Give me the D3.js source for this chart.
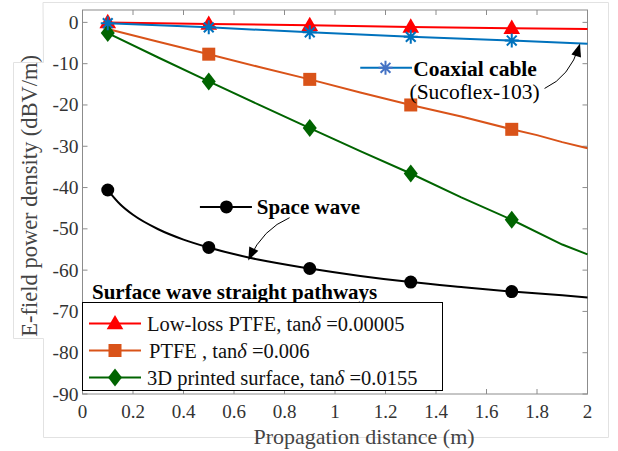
<!DOCTYPE html>
<html>
<head>
<meta charset="utf-8">
<script src="https://cdn.jsdelivr.net/npm/d3@7"></script>
</head>
<body style="margin:0">
<svg id="chart" width="618" height="451"></svg>
<script>
// distances (m) and E-field power density (dBV/m)
var lowLossX = [0.1, 0.5, 0.9, 1.3, 1.7, 2.0];
var lowLossY = [0, -0.4, -0.7, -1.1, -1.4, -1.6];
var coaxX = [0.1, 0.5, 0.9, 1.3, 1.7, 2.0];
var coaxY = [-0.2, -1.2, -2.4, -3.5, -4.4, -5.2];
var ptfeX = [0.1, 0.3, 0.5, 0.7, 0.9, 1.1, 1.3, 1.5, 1.7, 1.8, 1.9, 2.0];
var ptfeY = [-1.6, -4.7, -7.7, -10.8, -13.8, -17.0, -20.0, -22.8, -25.9, -27.3, -29.0, -30.5];
var printedX = [0.1, 0.3, 0.5, 0.7, 0.9, 1.0, 1.1, 1.3, 1.5, 1.7, 1.9, 2.0];
var printedY = [-2.6, -8.5, -14.3, -20.0, -25.6, -28.4, -31.2, -36.6, -42.4, -47.8, -53.8, -56.2];
var spaceX = [0.1, 0.15, 0.2, 0.3, 0.4, 0.5, 0.7, 0.9, 1.1, 1.3, 1.5, 1.7, 1.9, 2.0];
var spaceY = [-40.6, -44.1, -46.6, -50.1, -52.6, -54.5, -57.5, -59.6, -61.4, -62.9, -64.1, -65.2, -66.1, -66.6];
var markerX = [0.1, 0.5, 0.9, 1.3, 1.7];

var xTicks = [0, 0.2, 0.4, 0.6, 0.8, 1, 1.2, 1.4, 1.6, 1.8, 2];
var yTicks = [0, -10, -20, -30, -40, -50, -60, -70, -80, -90];
var legendNames = ['Low-loss PTFE, tan', 'PTFE , tan', '3D printed surface, tan'];
var legendVals = [' =0.00005', ' =0.006', ' =0.0155'];

var svg = d3.select('#chart');
var L = 82.5, R = 587.5, T = 10, B = 394;

var x = d3.scaleLinear().domain([0, 2]).range([L, R]);
var y = d3.scaleLinear().domain([-90, 3]).range([B, T]);

// faint page frame from the screenshot
svg.append('path')
  .attr('d', 'M43,2.5 H608.5 V437.5 H43.5 V338.5 H13.5 V62.5 H43.5 Z')
  .attr('fill', 'none')
  .attr('stroke', '#e2e2e2');

// axes box + inward ticks
var axisCol = '#8c8c8c';
svg.append('rect')
  .attr('x', L).attr('y', T).attr('width', R - L).attr('height', B - T)
  .attr('fill', '#fff').attr('stroke', axisCol);

xTicks.forEach(function(t) {
  svg.append('line').attr('x1', x(t)).attr('x2', x(t)).attr('y1', B).attr('y2', B - 5).attr('stroke', axisCol);
  svg.append('line').attr('x1', x(t)).attr('x2', x(t)).attr('y1', T).attr('y2', T + 5).attr('stroke', axisCol);
});
yTicks.forEach(function(t) {
  svg.append('line').attr('x1', L).attr('x2', L + 5).attr('y1', y(t)).attr('y2', y(t)).attr('stroke', axisCol);
  svg.append('line').attr('x1', R).attr('x2', R - 5).attr('y1', y(t)).attr('y2', y(t)).attr('stroke', axisCol);
});

function txt(px, py, size, str) {
  return svg.append('text')
    .attr('x', px).attr('y', py)
    .attr('font-family', 'Liberation Serif')
    .attr('font-size', size)
    .text(str);
}

xTicks.forEach(function(d) {
  txt(x(d), B + 24, 19, d).attr('text-anchor', 'middle').attr('fill', '#333');
});
yTicks.forEach(function(d) {
  txt(L - 4, y(d) + 6.5, 19.5, d).attr('text-anchor', 'end').attr('fill', '#333');
});

txt(364, 443.5, 22, 'Propagation distance (m)').attr('text-anchor', 'middle').attr('fill', '#444');
txt(0, 0, 22.5, 'E-field power density (dBV/m)')
  .attr('transform', 'translate(37,' + y(-42) + ') rotate(-90)')
  .attr('text-anchor', 'middle').attr('fill', '#444');

// markers
function asterisk(s) {
  var a = s * 0.7;
  return 'M0,' + (-s) + 'V' + s + 'M' + (-s) + ',0H' + s +
    'M' + (-a) + ',' + (-a) + 'L' + a + ',' + a + 'M' + (-a) + ',' + a + 'L' + a + ',' + (-a);
}
function diamond(w, h) {
  return 'M0,' + (-h) + 'L' + w + ',0L0,' + h + 'L' + (-w) + ',0Z';
}
function drawMarker(g, kind, color) {
  if (kind === 'tri') g.append('path').attr('d', d3.symbol(d3.symbolTriangle, 120)()).attr('transform', 'translate(0,1)').attr('fill', color);
  if (kind === 'sq') g.append('rect').attr('x', -6.5).attr('y', -6.5).attr('width', 13).attr('height', 13).attr('fill', color);
  if (kind === 'dia') g.append('path').attr('d', diamond(7, 9)).attr('fill', color);
  if (kind === 'circ') g.append('circle').attr('r', 6.5).attr('fill', color);
  if (kind === 'ast') g.append('path').attr('d', asterisk(7)).attr('stroke', color).attr('stroke-width', 2).attr('fill', 'none');
}

var line = d3.line()
  .x(function(d) { return x(d[0]); })
  .y(function(d) { return y(d[1]); });

function series(xs, ys, color, kind, mx, curve) {
  var pts = xs.map(function(v, i) { return [v, ys[i]]; });
  svg.append('path')
    .attr('d', line.curve(curve || d3.curveLinear)(pts))
    .attr('fill', 'none').attr('stroke', color).attr('stroke-width', 2);
  mx.forEach(function(v) {
    var i = xs.indexOf(v);
    var g = svg.append('g').attr('transform', 'translate(' + x(v) + ',' + y(ys[i]) + ')');
    drawMarker(g, kind, color);
  });
}

var cRed = '#ff0000', cOrange = '#d95319', cGreen = '#006400', cBlue = '#0072bd';
series(lowLossX, lowLossY, cRed, 'tri', markerX);
series(ptfeX, ptfeY, cOrange, 'sq', markerX.slice(1));
series(printedX, printedY, cGreen, 'dia', markerX);
series(coaxX, coaxY, cBlue, 'ast', markerX);
series(spaceX, spaceY, '#000', 'circ', markerX, d3.curveMonotoneX);

// annotations
function arrow(x0, y0, cx, cy, x1, y1) {
  svg.append('path')
    .attr('d', 'M' + x0 + ',' + y0 + ' Q' + cx + ',' + cy + ' ' + x1 + ',' + y1)
    .attr('fill', 'none').attr('stroke', '#000').attr('stroke-width', 1);
  var ang = Math.atan2(y1 - cy, x1 - cx);
  var len = 11, wid = 5;
  var bx = x1 - len * Math.cos(ang), by = y1 - len * Math.sin(ang);
  var px = -Math.sin(ang) * wid, py = Math.cos(ang) * wid;
  svg.append('path')
    .attr('d', 'M' + (x1 + 2 * Math.cos(ang)) + ',' + (y1 + 2 * Math.sin(ang)) + 'L' + (bx + px) + ',' + (by + py) + 'L' + (bx - px) + ',' + (by - py) + 'Z')
    .attr('fill', '#000');
}

// coaxial cable label
svg.append('line').attr('x1', x(1.10)).attr('x2', x(1.305)).attr('y1', y(-11)).attr('y2', y(-11))
  .attr('stroke', cBlue).attr('stroke-width', 2);
drawMarker(svg.append('g').attr('transform', 'translate(' + x(1.2) + ',' + y(-11) + ')'), 'ast', '#4472c4');
txt(x(1.31), y(-13.1), 21.5, 'Coaxial cable').attr('font-weight', 'bold');
txt(x(1.295), y(-18.6), 21.5, '(Sucoflex-103)');
arrow(x(1.83), y(-16), x(1.93), y(-13.2), x(1.968), y(-5.6));

// space wave label
svg.append('line').attr('x1', x(0.465)).attr('x2', x(0.671)).attr('y1', y(-44.7)).attr('y2', y(-44.7))
  .attr('stroke', '#000').attr('stroke-width', 2);
drawMarker(svg.append('g').attr('transform', 'translate(' + x(0.57) + ',' + y(-44.7) + ')'), 'circ', '#000');
txt(x(0.69), y(-46.5), 21, 'Space wave').attr('font-weight', 'bold');
arrow(x(0.82), y(-47.3), x(0.715), y(-50), x(0.66), y(-57.2));

// legend
txt(92, 298.5, 21, 'Surface wave straight pathways').attr('font-weight', 'bold');
svg.append('rect').attr('x', L).attr('y', 302.5).attr('width', 360).attr('height', 88)
  .attr('fill', '#fff').attr('stroke', '#000');
var legColors = [cRed, cOrange, cGreen], legKinds = ['tri', 'sq', 'dia'];
legendNames.forEach(function(name, i) {
  var ly = 323.5 + i * 27;
  svg.append('line').attr('x1', 89).attr('x2', 141).attr('y1', ly).attr('y2', ly)
    .attr('stroke', legColors[i]).attr('stroke-width', 2);
  drawMarker(svg.append('g').attr('transform', 'translate(115,' + ly + ')'), legKinds[i], legColors[i]);
  var t = txt(i === 1 ? 149 : 147, ly + 7, 20.5, null).attr('fill', '#111');
  t.append('tspan').text(name);
  t.append('tspan').attr('font-style', 'italic').text('δ');
  t.append('tspan').text(legendVals[i]);
});
</script>
</body>
</html>
